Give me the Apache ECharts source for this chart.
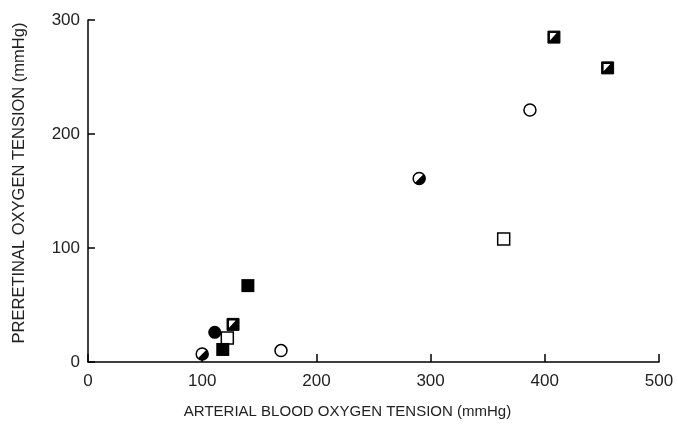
<!DOCTYPE html>
<html>
<head>
<meta charset="utf-8">
<script src="https://cdn.jsdelivr.net/npm/echarts@6/dist/echarts.min.js"></script>
<style>
  html, body { margin: 0; padding: 0; background: #fff; }
  #chart { width: 678px; height: 424px; }
</style>
</head>
<body>
<div id="chart"></div>
<script>
// [arterial pO2, preretinal pO2] in mmHg
var openCircle = [[169, 10], [387, 221]];
var openSquare = [[122, 21], [364, 108]];
var filledCircle = [[111, 26]];
var filledSquare = [[118, 11], [140, 67]];
var halfCircle = [[100, 7], [290, 161]];
var halfSquare = [[127, 33], [408, 285], [455, 258]];

var xTicks = [0, 100, 200, 300, 400, 500];
var yTicks = [0, 100, 200, 300];

var font = 'Liberation Sans, Arial, sans-serif';

function drawHalfSquare(params, api) {
    var p = api.coord([api.value(0), api.value(1)]);
    var s = 12, h = s / 2;
    var l = p[0] - h, t = p[1] - h;
    return {
        type: 'group',
        children: [
            {type: 'rect', shape: {x: l, y: t, width: s, height: s},
             style: {fill: '#000', stroke: '#000', lineWidth: 1}},
            {type: 'polygon', shape: {points: [[l + 2, t + 2], [l + s * 0.72, t + 2], [l + 2, t + s * 0.78]]},
             style: {fill: '#fff'}}
        ]
    };
}

function drawHalfCircle(params, api) {
    var p = api.coord([api.value(0), api.value(1)]);
    var r = 6;
    return {
        type: 'group',
        children: [
            {type: 'circle', shape: {cx: p[0], cy: p[1], r: r},
             style: {fill: '#fff', stroke: '#000', lineWidth: 1.5}},
            {type: 'sector', shape: {cx: p[0], cy: p[1], r: r, r0: 0,
                startAngle: -Math.PI / 4, endAngle: Math.PI * 3 / 4, clockwise: true},
             style: {fill: '#000'}}
        ]
    };
}

var option = {
    backgroundColor: '#fff',
    animation: false,
    grid: {left: 88, right: 19, top: 20, bottom: 61},
    xAxis: {
        type: 'value',
        min: 0,
        max: 500,
        interval: 100,
        name: 'ARTERIAL BLOOD OXYGEN TENSION (mmHg)',
        nameLocation: 'middle',
        nameGap: 42,
        nameTextStyle: {color: '#222', fontSize: 15, fontFamily: font, padding: [0, 52, 0, 0]},
        axisLine: {lineStyle: {color: '#000', width: 1.5}},
        axisTick: {inside: true, length: 8, lineStyle: {color: '#000', width: 1.5}},
        axisLabel: {color: '#222', fontSize: 17, fontFamily: font, margin: 11,
            formatter: function (v) { return xTicks.indexOf(v) >= 0 ? String(v) : ''; }},
        splitLine: {show: false}
    },
    yAxis: {
        type: 'value',
        min: 0,
        max: 300,
        interval: 100,
        name: 'PRERETINAL OXYGEN TENSION (mmHg)',
        nameLocation: 'middle',
        nameGap: 60,
        nameTextStyle: {color: '#222', fontSize: 16.5, fontFamily: font, padding: [0, 0, 0, 16]},
        axisLine: {lineStyle: {color: '#000', width: 1.5}},
        axisTick: {inside: true, length: 7, lineStyle: {color: '#000', width: 1.5}},
        axisLabel: {color: '#222', fontSize: 17, fontFamily: font, margin: 8,
            formatter: function (v) { return yTicks.indexOf(v) >= 0 ? String(v) : ''; }},
        splitLine: {show: false}
    },
    series: [
        {type: 'scatter', data: openCircle, symbol: 'circle', symbolSize: 12,
         itemStyle: {color: '#fff', borderColor: '#000', borderWidth: 1.5, opacity: 1}},
        {type: 'scatter', data: openSquare, symbol: 'rect', symbolSize: 12,
         itemStyle: {color: '#fff', borderColor: '#000', borderWidth: 1.5, opacity: 1}},
        {type: 'scatter', data: filledCircle, symbol: 'circle', symbolSize: 13,
         itemStyle: {color: '#000', opacity: 1}},
        {type: 'scatter', data: filledSquare, symbol: 'rect', symbolSize: 13,
         itemStyle: {color: '#000', opacity: 1}},
        {type: 'custom', data: halfCircle, renderItem: drawHalfCircle},
        {type: 'custom', data: halfSquare, renderItem: drawHalfSquare}
    ]
};

echarts.init(document.getElementById('chart')).setOption(option);
</script>
</body>
</html>
